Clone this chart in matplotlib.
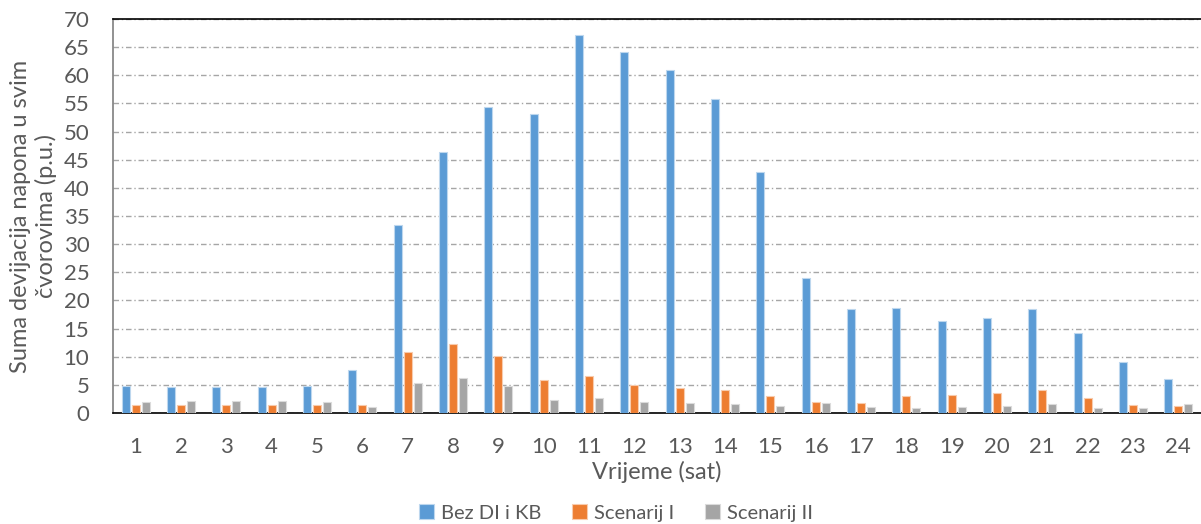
import matplotlib
matplotlib.use("Agg")
import matplotlib.pyplot as plt
import numpy as np

hours = [str(h) for h in range(1, 25)]
bez_di_kb = [4.85, 4.7, 4.6, 4.55, 4.8, 7.7, 33.4, 46.3, 54.4, 53.2, 67.2, 64.2,
             61.0, 55.7, 42.9, 24.0, 18.4, 18.7, 16.4, 16.8, 18.4, 14.3, 9.1, 6.1]
scenarij_1 = [1.36, 1.42, 1.42, 1.5, 1.42, 1.36, 10.8, 12.25, 10.06, 5.8, 6.57, 4.97,
              4.38, 4.02, 3.08, 1.95, 1.78, 3.0, 3.25, 3.55, 4.08, 2.66, 1.42, 1.24]
scenarij_2 = [2.0, 2.07, 2.13, 2.2, 2.0, 1.07, 5.3, 6.3, 4.73, 2.3, 2.6, 1.95,
              1.78, 1.54, 1.3, 1.78, 1.07, 0.95, 1.12, 1.3, 1.6, 0.95, 0.89, 1.6]
series_names = ["Bez DI i KB", "Scenarij I", "Scenarij II"]
colors = ["#5B9BD5", "#ED7D31", "#A5A5A5"]
edge_colors = ["#BDD7EE", "#F8CBAD", "#DBDBDB"]

FONT = "Lato"
TXT = "#595959"

fig = plt.figure(figsize=(12.01, 5.24), dpi=100)
ax = fig.add_axes([113/1201, 111/524, 1088/1201, 394/524])

x = np.arange(len(hours))
w = 0.18
step = 0.22
for i, (vals, c, ec, name) in enumerate(zip([bez_di_kb, scenarij_1, scenarij_2], colors, edge_colors, series_names)):
    ax.bar(x + (i - 1) * step, vals, width=w, color=c, edgecolor=ec, linewidth=0.8,
           label=name, zorder=3)

ax.set_xlim(-0.5, len(hours) - 0.5)
ax.set_ylim(0, 70)
ax.set_yticks(np.arange(0, 71, 5))
ax.set_xticks(x)
ax.set_xticklabels(hours)

for lab in ax.get_xticklabels() + ax.get_yticklabels():
    lab.set_fontfamily(FONT)
    lab.set_fontsize(16)
    lab.set_color(TXT)
ax.tick_params(axis="x", length=0, pad=17)
ax.tick_params(axis="y", length=0, pad=17)

ax.grid(axis="y", color="#A6A6A6", linestyle=(0, (4, 2, 1, 2)), linewidth=1.0, zorder=0)
ax.set_axisbelow(True)

for s in ["left", "bottom", "top"]:
    ax.spines[s].set_color("#000000")
    ax.spines[s].set_linewidth(1.2)
ax.spines["left"].set_color("#7F7F7F")
ax.spines["right"].set_visible(False)

ax.set_ylabel("Suma devijacija napona u svim\nčvorovima (p.u.)", fontfamily=FONT,
              fontsize=17, color=TXT, labelpad=5, linespacing=1.2)
ax.set_xlabel("Vrijeme (sat)", fontfamily=FONT, fontsize=17, color=TXT, labelpad=3)

handles, labels = ax.get_legend_handles_labels()
leg = fig.legend(handles, labels, loc="center", bbox_to_anchor=(616/1201, 1 - 513/524),
                 ncol=3, frameon=False, prop=dict(family=FONT, size=14.5),
                 handlelength=0.75, handleheight=0.75, handletextpad=0.35, columnspacing=1.5,
                 borderaxespad=0)
for t in leg.get_texts():
    t.set_color(TXT)

fig.savefig("out.png", dpi=100)
